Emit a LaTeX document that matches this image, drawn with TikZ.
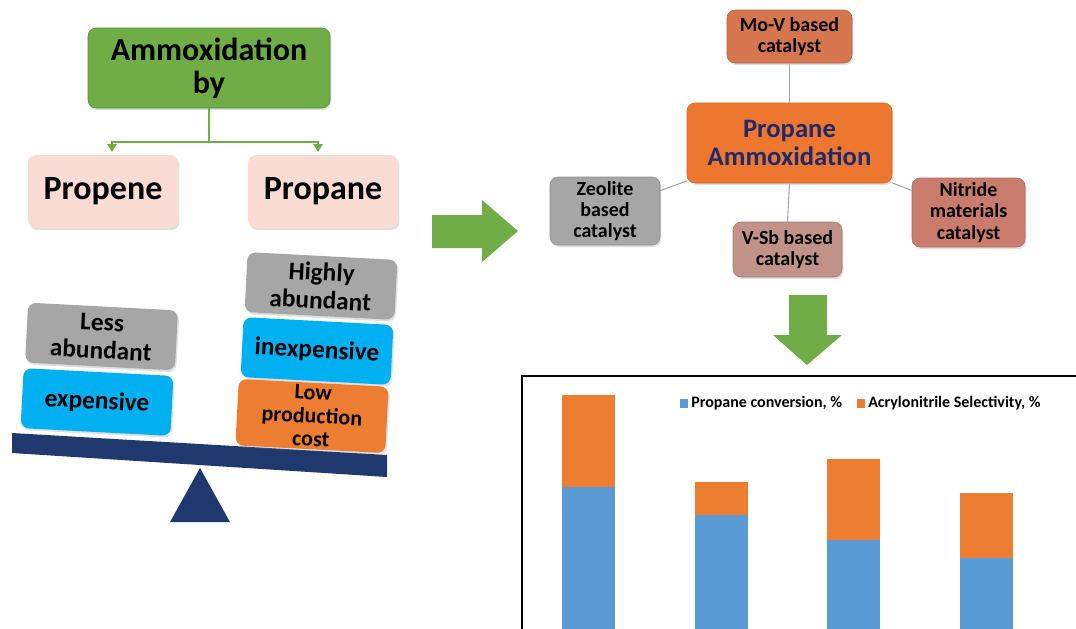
\documentclass[tikz,border=0pt]{standalone}
\usepackage{fontspec}
\setmainfont{Carlito}
\usetikzlibrary{arrows.meta,shadows}

\definecolor{boxgreen}{RGB}{112,173,71}
\definecolor{edgegreen}{RGB}{84,140,52}
\definecolor{paleros}{RGB}{249,220,211}
\definecolor{stonegrey}{RGB}{166,166,166}
\definecolor{skyblue}{RGB}{0,176,240}
\definecolor{warmorange}{RGB}{237,125,49}
\definecolor{rustbox}{RGB}{214,118,78}
\definecolor{mauvebox}{RGB}{192,146,136}
\definecolor{clayred}{RGB}{201,124,108}
\definecolor{inknavy}{RGB}{31,42,107}
\definecolor{beamnavy}{RGB}{31,56,110}
\definecolor{barblue}{RGB}{91,155,213}
\definecolor{barorange}{RGB}{237,125,49}

\begin{document}
\begin{tikzpicture}[x=0.75pt,y=-0.75pt,
    box/.style={rounded corners=6pt, align=center, inner sep=2pt,
        drop shadow={opacity=0.25, shadow xshift=1pt, shadow yshift=-1.5pt}},
    weight/.style={box, rotate=-3, minimum width=112.5pt, minimum height=45pt,
        font=\bfseries\fontsize{19}{21}\selectfont},
    catalyst/.style={box, draw=#1!85!black, fill=#1, line width=0.4pt,
        font=\bfseries\fontsize{15}{16}\selectfont},
    spoke/.style={draw=gray!70, line width=0.8pt},
    greenlink/.style={draw=boxgreen, line width=1.2pt}]

    \useasboundingbox (0,0) rectangle (1076,629);

    % Ammoxidation tree
    \node[box, draw=edgegreen, fill=boxgreen, minimum width=181.5pt, minimum height=60pt,
        font=\bfseries\fontsize{24}{24.5}\selectfont] (ammox) at (209,68) {Ammoxidation\\by};
    \node[box, fill=paleros, minimum width=112.5pt, minimum height=54.75pt,
        font=\bfseries\fontsize{25.5}{26}\selectfont] (propene) at (103,191.5) {Propene};
    \node[box, fill=paleros, minimum width=112.5pt, minimum height=54.75pt,
        font=\bfseries\fontsize{25.5}{26}\selectfont] (propane) at (323,191.5) {Propane};

    \draw[greenlink] (ammox.south) -- ++(0,34) coordinate (fork);
    \draw[greenlink, -{Triangle[length=6pt,width=7pt]}, shorten >=2pt]
        (fork) -| ([xshift=6.75pt]propene.north);
    \draw[greenlink, -{Triangle[length=6pt,width=7pt]}, shorten >=2pt]
        (fork) -| ([xshift=-3.75pt]propane.north);

    % Balance beam and pivot
    \fill[beamnavy] (12,433) -- (387,455) -- (387,477) -- (12,453) -- cycle;
    \fill[beamnavy] (200,468) -- (230,522) -- (170,522) -- cycle;

    % Left pan
    \node[weight, fill=stonegrey] (lessab) at (101.5,336.5) {Less\\abundant};
    \node[weight, fill=skyblue] (expens) at (97,402) {expensive};

    % Right pan
    \node[weight, fill=stonegrey] (highab) at (321,286) {Highly\\abundant};
    \node[weight, fill=skyblue] (inexpens) at (317,351) {inexpensive};
    \node[weight, fill=warmorange, font=\bfseries\fontsize{16.5}{17.5}\selectfont]
        (lowcost) at (312,416) {Low\\production\\cost};

    % Big arrows
    \fill[boxgreen] (432,215) -- (482,215) -- (482,200) -- (518,231) -- (482,262)
        -- (482,248) -- (432,248) -- cycle;
    \fill[boxgreen] (789,295) -- (827,295) -- (827,335) -- (842,335) -- (807,365)
        -- (773,335) -- (789,335) -- cycle;

    % Catalyst map
    \node[box, draw=warmorange!85!black, fill=warmorange!95!red, line width=0.4pt,
        minimum width=153.75pt, minimum height=60pt, text=inknavy,
        font=\bfseries\fontsize{20}{20.5}\selectfont] (central) at (789.5,143) {Propane\\Ammoxidation};
    \node[catalyst=rustbox, minimum width=93.75pt, minimum height=39.75pt]
        (movb) at (789.5,36.5) {Mo-V based\\catalyst};
    \node[catalyst=stonegrey, minimum width=82.5pt, minimum height=51pt]
        (zeolite) at (605,211) {Zeolite\\based\\catalyst};
    \node[catalyst=mauvebox, minimum width=81.75pt, minimum height=41.25pt]
        (vsb) at (787.5,249.5) {V-Sb based\\catalyst};
    \node[catalyst=clayred, minimum width=84.75pt, minimum height=51.75pt]
        (nitride) at (968.5,212.5) {Nitride\\materials\\catalyst};

    \draw[spoke] (movb.south) -- (central.north);
    \draw[spoke] (central) -- (zeolite);
    \draw[spoke] (central) -- (nitride);
    \draw[spoke] (central.south) -- (vsb.north);

    % Bar chart
    \begin{scope}
        \clip (0,0) rectangle (1076,629);
        \draw[line width=1.5pt] (522,376) rectangle (1090,650);
        \foreach \bx/\ot/\bt in {562/395/487, 695/482/515, 827/459/540, 960/493/558}{
            \fill[barorange] (\bx,\ot) rectangle (\bx+53,\bt);
            \fill[barblue] (\bx,\bt) rectangle (\bx+53,650);
        }
    \end{scope}

    % Legend
    \fill[barblue] (680,399) rectangle (688,408);
    \node[anchor=west, inner sep=0pt, font=\bfseries\fontsize{12}{13}\selectfont]
        (convlabel) at (691,403.5) {Propane conversion, \%};
    \fill[barorange] (857,399) rectangle (865,408);
    \node[anchor=west, inner sep=0pt, font=\bfseries\fontsize{12}{13}\selectfont]
        (sellabel) at (868,403.5) {Acrylonitrile Selectivity, \%};
\end{tikzpicture}
\end{document}
